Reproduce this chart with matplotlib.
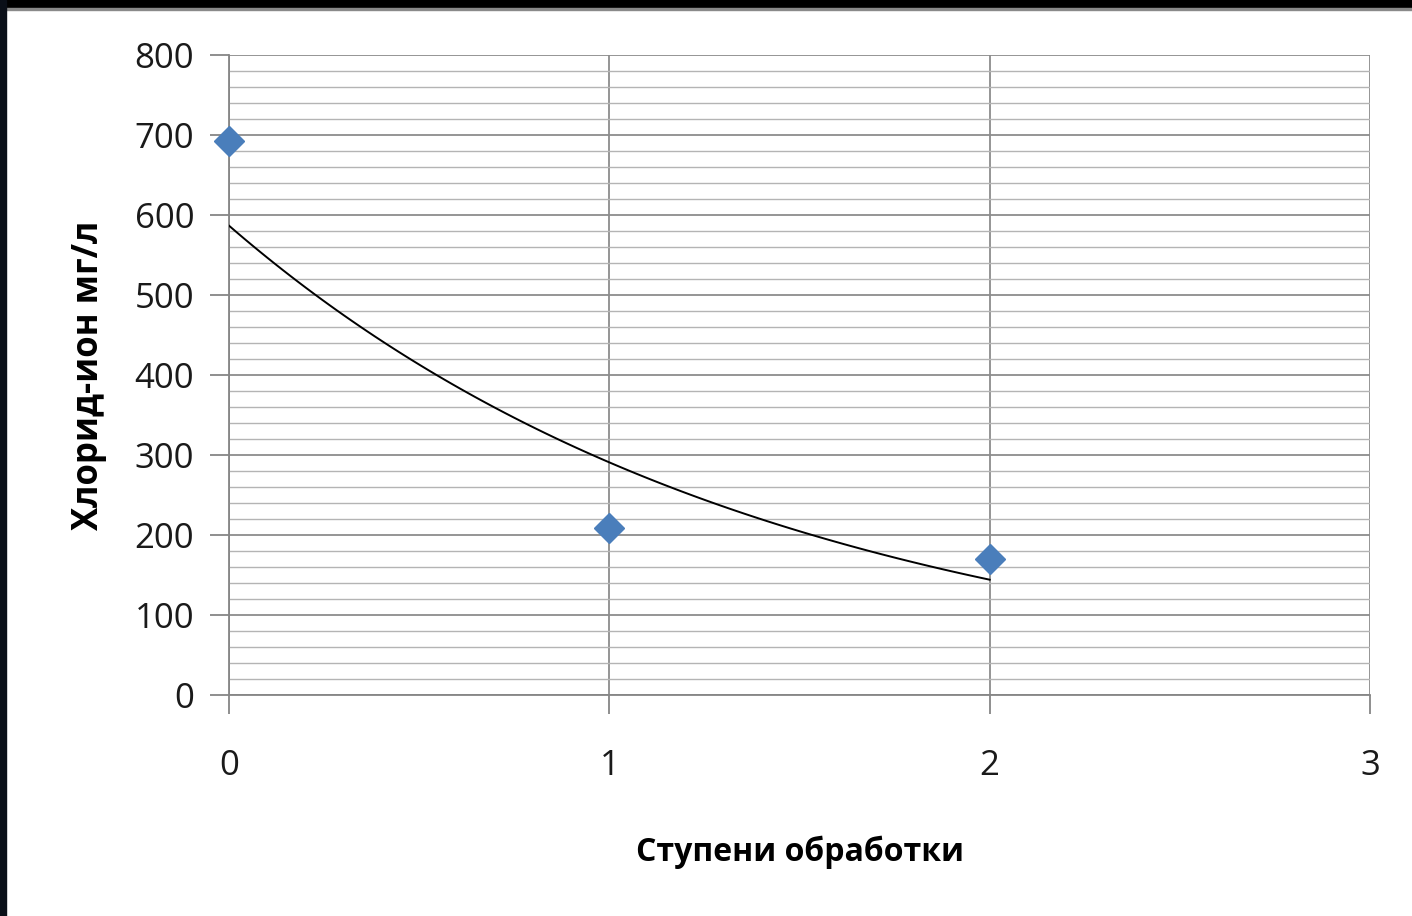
import numpy as np
import matplotlib.pyplot as plt
from matplotlib.patches import Rectangle
from matplotlib.ticker import MultipleLocator

# data
stage = [0, 1, 2]
chloride = [692, 209, 170]

x_ticks = [0, 1, 2, 3]
y_ticks = [0, 100, 200, 300, 400, 500, 600, 700, 800]

plt.rcParams['font.family'] = ['Open Sans', 'DejaVu Sans']

fig = plt.figure(figsize=(14.12, 9.16), dpi=100)
ax = fig.add_axes([229 / 1412, 1 - 695 / 916, (1370 - 229) / 1412, (695 - 55) / 916])

# exponential trendline like the spreadsheet one
k, b = np.polyfit(stage, np.log(chloride), 1)
xt = np.linspace(stage[0], stage[-1], 100)
ax.plot(xt, np.exp(b + k * xt), color='black', lw=1.4, zorder=3)

ax.plot(stage, chloride, linestyle='none', marker='D', ms=15,
        color='#4a7ebb', mec='#4a7ebb', zorder=4, clip_on=False)

ax.set_xlim(0, 3)
ax.set_ylim(0, 800)
ax.set_xticks(x_ticks)
ax.set_yticks(y_ticks)
ax.yaxis.set_minor_locator(MultipleLocator(20))

ax.grid(which='major', axis='both', color='#8c8c8c', lw=1.3)
ax.grid(which='minor', axis='y', color='#b4b4b4', lw=1.0)
ax.set_axisbelow(True)

for s in ['top', 'right']:
    ax.spines[s].set_visible(False)
for s in ['left', 'bottom']:
    ax.spines[s].set_color('#868686')
    ax.spines[s].set_linewidth(1.3)

ax.tick_params(axis='both', which='major', length=14, width=1.3, color='#868686',
               labelsize=25, labelcolor='#1a1a1a')
ax.tick_params(axis='y', which='minor', length=0)
ax.tick_params(axis='y', pad=11)
ax.tick_params(axis='x', pad=25)

ax.set_xlabel('Ступени обработки', fontsize=23, fontweight='bold', labelpad=38)
ax.set_ylabel('Хлорид-ион мг/л', fontsize=25, fontweight='bold', labelpad=20)

# dark frame of the screenshot
fig.patches.append(Rectangle((0, 1 - 8 / 916), 1, 8 / 916, transform=fig.transFigure,
                             color='black', zorder=10))
fig.patches.append(Rectangle((0, 1 - 10 / 916), 1, 2 / 916, transform=fig.transFigure,
                             color='#8a8a8a', zorder=10))
fig.patches.append(Rectangle((0, 0), 6 / 1412, 1, transform=fig.transFigure,
                             color='#0a0f18', zorder=10))

fig.savefig('out.png', dpi=100)
